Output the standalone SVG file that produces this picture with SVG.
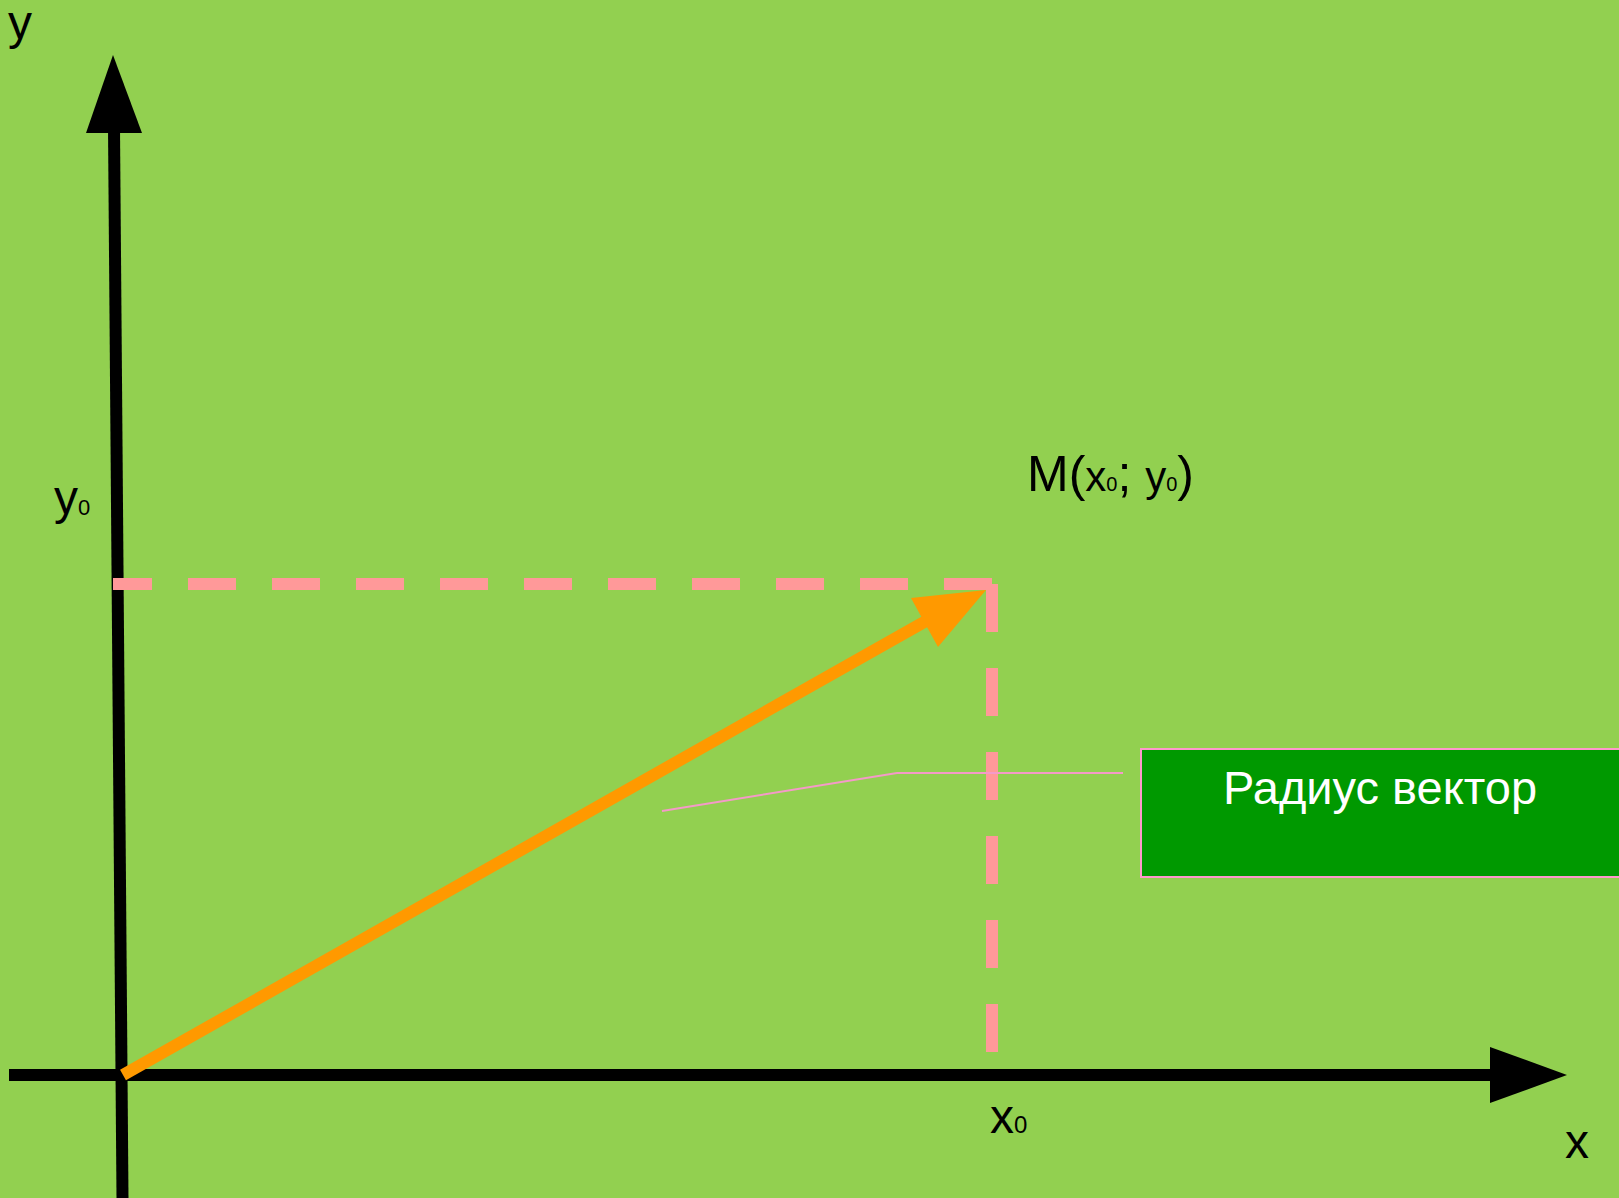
<svg xmlns="http://www.w3.org/2000/svg" width="1619" height="1198" viewBox="0 0 1619 1198">
<style>
.lbl{font-family:"Liberation Sans",Arial,sans-serif;fill:#000}
.axis{stroke:#000;stroke-width:12;fill:none}
.dash{stroke:#FF9999;stroke-width:12;fill:none;stroke-dasharray:48 36}
.call{stroke:#F49AC8;stroke-width:2;fill:none}
</style>
<rect x="0" y="0" width="1619" height="1198" fill="#92D050"/>
<g id="connectors">
<line class="axis" x1="114" y1="128" x2="122.5" y2="1198"/>
<polygon points="113,55 86,133 142,133" fill="#000"/>
<line class="axis" x1="9" y1="1075" x2="1492" y2="1075"/>
<polygon points="1490,1047 1567,1075 1490,1103" fill="#000"/>
<path class="dash" d="M992,584 H113"/>
<path class="dash" d="M992,584 V1052"/>
<line x1="123" y1="1075" x2="926" y2="621" stroke="#FF9900" stroke-width="12"/>
<polygon points="986,590 911,598 938,647" fill="#FF9900"/>
<polyline class="call" points="662,811 897,773 1123,773"/>
</g>
<g id="label-y"><text class="lbl" x="8" y="39" font-size="48">y</text></g>
<g id="label-y0"><text class="lbl" x="54" y="514" font-size="48">y<tspan font-size="22" y="515">0</tspan></text></g>
<g id="label-M"><text class="lbl" x="1027" y="491" font-size="50">M(<tspan font-size="42">x</tspan><tspan font-size="20">0</tspan>; <tspan font-size="42">y</tspan><tspan font-size="20">0</tspan>)</text></g>
<g id="label-x0"><text class="lbl" x="990" y="1133" font-size="48">x<tspan font-size="24">0</tspan></text></g>
<g id="label-x"><text class="lbl" x="1565" y="1158" font-size="48">x</text></g>
<g id="node-radius">
<rect x="1141" y="749" width="480" height="128" fill="#009900" stroke="#FF99CC" stroke-width="2"/>
<text x="1380" y="804" font-family="'Liberation Sans',Arial,sans-serif" font-size="47" fill="#fff" text-anchor="middle">Радиус вектор</text>
</g>
</svg>
